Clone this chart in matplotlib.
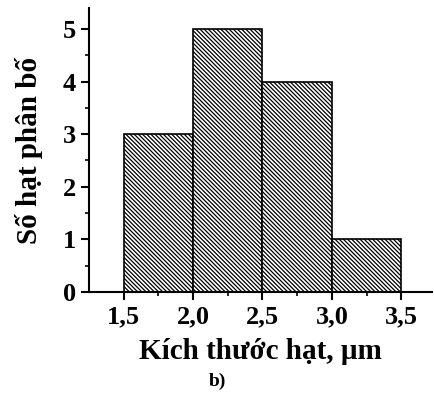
import matplotlib.pyplot as plt

# particle size histogram data
bin_left = [1.5, 2.0, 2.5, 3.0]
bin_width = 0.5
counts = [3, 5, 4, 1]
xticks = [1.5, 2.0, 2.5, 3.0, 3.5]
xtick_labels = ['1,5', '2,0', '2,5', '3,0', '3,5']
yticks = [0, 1, 2, 3, 4, 5]

plt.rcParams['font.family'] = ['Liberation Serif', 'DejaVu Serif']
plt.rcParams['font.weight'] = 'bold'
plt.rcParams['hatch.linewidth'] = 0.9

fig = plt.figure(figsize=(4.34, 4.01), dpi=100)
ax = fig.add_axes([0.205, 0.272, 0.79, 0.708])

ax.bar(bin_left, counts, width=bin_width, align='edge', color='white',
       edgecolor='black', linewidth=1.2, hatch='\\\\\\\\\\\\\\\\')

ax.set_xlim(1.25, 3.72)
ax.set_ylim(0, 5.4)
ax.set_xticks(xticks)
ax.set_xticklabels(xtick_labels)
ax.set_yticks(yticks)
ax.set_xticks([1.75, 2.25, 2.75, 3.25], minor=True)
ax.set_yticks([0.5, 1.5, 2.5, 3.5, 4.5], minor=True)

for side in ['top', 'right']:
    ax.spines[side].set_visible(False)
for side in ['left', 'bottom']:
    ax.spines[side].set_linewidth(1.5)

ax.tick_params(which='major', direction='out', length=6, width=1.5, labelsize=19)
ax.tick_params(which='minor', direction='out', length=3, width=1.2)

ax.set_ylabel('Số hạt phân bố', fontsize=21, fontweight='bold', labelpad=14)
ax.set_xlabel('Kích thước hạt, µm', fontsize=21, fontweight='bold', labelpad=7)
fig.text(0.5, 0.05, 'b)', ha='center', va='center', fontsize=14, fontweight='bold')

fig.savefig('out.png', dpi=100)
